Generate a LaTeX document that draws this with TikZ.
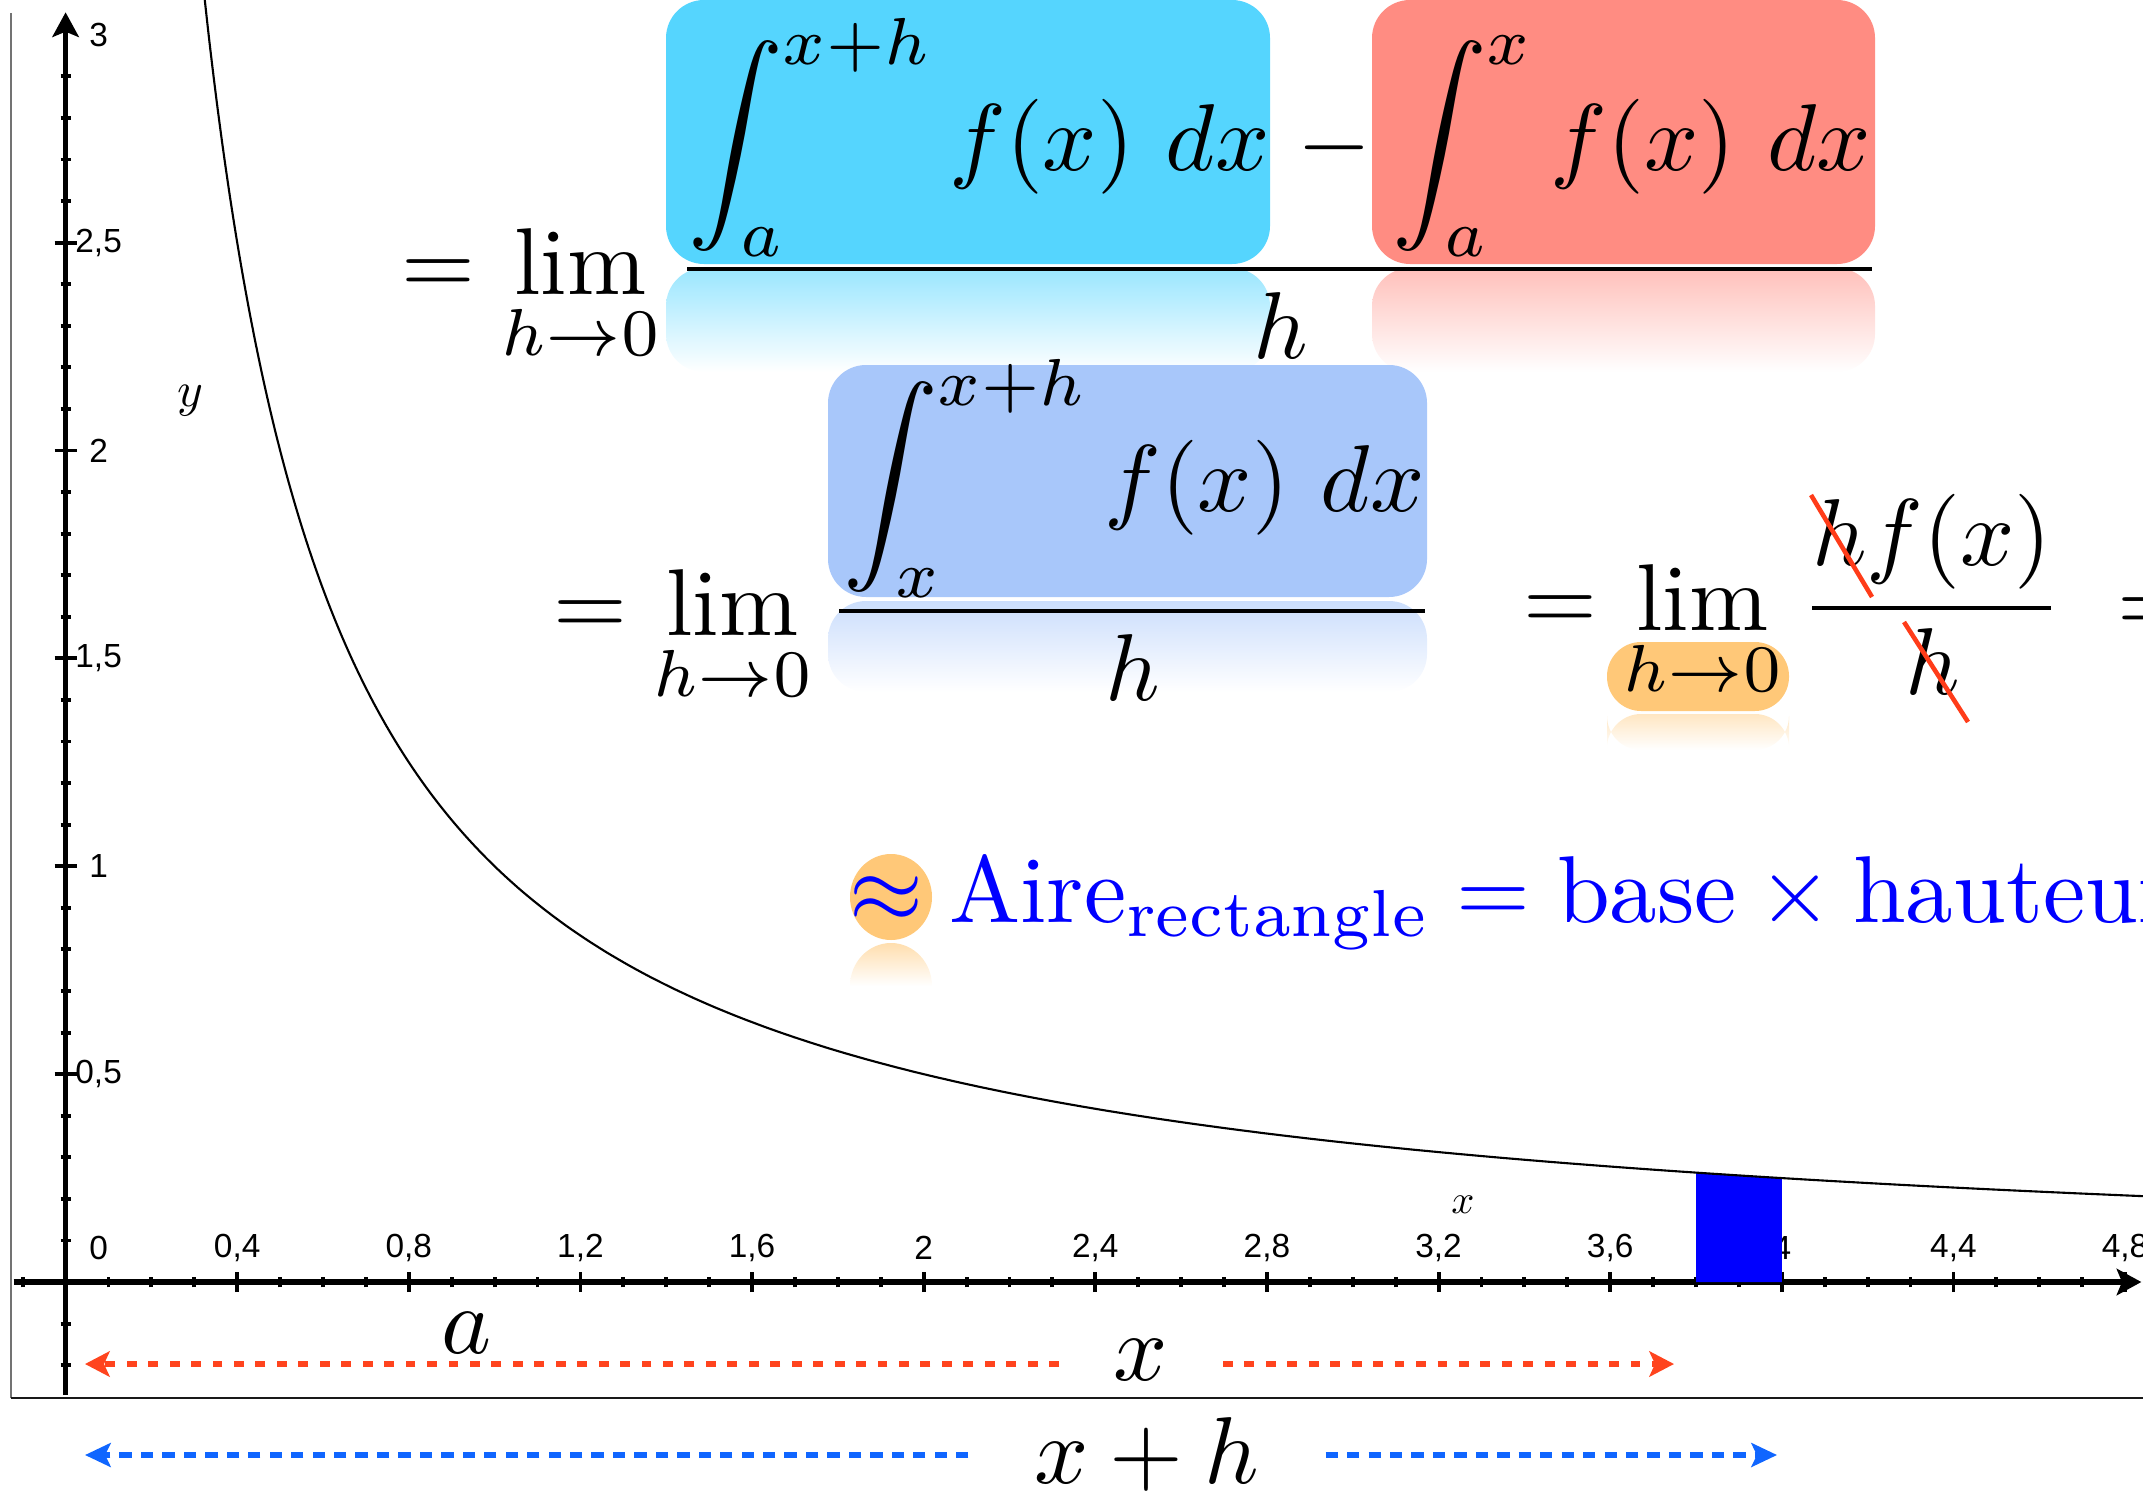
\documentclass[tikz,border=0pt]{standalone}
\usepackage{fontspec}
\newfontfamily\axfont{Liberation Sans}
\usetikzlibrary{arrows.meta}
\definecolor{cyanb}{RGB}{85,213,254}
\definecolor{salm}{RGB}{255,140,130}
\definecolor{lavb}{RGB}{168,199,250}
\definecolor{orb}{RGB}{255,200,120}
\definecolor{strk}{RGB}{255,60,25}
\definecolor{redar}{RGB}{255,68,30}
\definecolor{bluar}{RGB}{16,102,255}
\newcommand{\mbg}[1]{\scalebox{2.7}{$\displaystyle #1$}}
\begin{document}
\begin{tikzpicture}[x=0.01cm,y=-0.01cm,
  mt/.style={inner sep=0pt, outer sep=0pt},
  axline/.style={line width=1.6pt, black},
  tickline/.style={line width=1.1pt, black},
  curveline/.style={line width=0.6pt, black},
  axlbl/.style={inner sep=0pt, font=\axfont\fontsize{9.5}{11}\selectfont},
  varlbl/.style={inner sep=0pt},
  fracbar/.style={line width=1.1pt, black},
  strike/.style={line width=1.3pt, strk},
  redarrow/.style={line width=1.7pt, redar, dash pattern=on 2.8pt off 3.3pt, -{Stealth[length=7pt,width=7.2pt,inset=1.6pt]}},
  bluearrow/.style={line width=1.7pt, bluar, dash pattern=on 3.5pt off 2.6pt, -{Stealth[length=7.3pt,width=6.8pt,inset=1.6pt]}},
  hlbox/.style={rounded corners=10.8pt},
  pillbox/.style={rounded corners=9.7pt}
]
\useasboundingbox (0,0) rectangle (2143,1494);

% ---------- highlight boxes and reflections ----------
\fill[cyanb, hlbox] (666,0) rectangle (1270,264);
\shade[hlbox, top color=cyanb!60!white, bottom color=white] (666,268) rectangle (1270,372);
\fill[salm, hlbox] (1372,0) rectangle (1875,264);
\shade[hlbox, top color=salm!55!white, bottom color=white] (1372,268) rectangle (1875,372);
\fill[lavb, hlbox] (828,365) rectangle (1427,597);
\shade[hlbox, top color=lavb!60!white, bottom color=white] (828,601) rectangle (1427,692);
\fill[orb, pillbox] (1607,642) rectangle (1789,711);
\shade[pillbox, top color=orb!45!white, bottom color=white] (1607,714) rectangle (1789,750);
\fill[orb] (891,897) ellipse [x radius=41, y radius=43];
\shade[top color=orb!60!white, bottom color=white] (850,986) arc[start angle=180, end angle=360, x radius=41, y radius=43] -- cycle;

% ---------- frame ----------
\draw[black!55, line width=0.45pt] (11,13) -- (11,1398);
\draw[black!90, line width=0.5pt] (11,1398) -- (2143,1398);

% ---------- graph ----------
\begin{scope}[shift={(65.6,1282)}, x=4.288cm, y=4.155cm]
  \foreach \i in {-1,1,2,...,48}{
    \pgfmathtruncatemacro{\ismaj}{mod(\i,4)==0 ? 1 : 0}
    \ifnum\ismaj=1
      \draw[tickline] (\i/10,0) ++(0,-2.9pt) -- ++(0,5.8pt);
    \else
      \draw[tickline] (\i/10,0) ++(0,-1.5pt) -- ++(0,3pt);
    \fi
  }
  \foreach \i in {-2,-1,1,2,...,29}{
    \pgfmathtruncatemacro{\ismaj}{mod(\i,5)==0 ? 1 : 0}
    \ifnum\ismaj=1
      \draw[tickline] (0,\i/10) ++(-3.1pt,0) -- ++(6.2pt,0);
    \else
      \draw[tickline] (0,\i/10) ++(-1.45pt,0) -- ++(2.9pt,0);
    \fi
  }
  \draw[axline, -{Stealth[length=7pt,width=7.5pt,inset=1.5pt]}] (-0.121,0) -- (4.838,0);
  \draw[axline, -{Stealth[length=7pt,width=7.5pt,inset=1.5pt]}] (0,-0.272) -- (0,3.054);
  \node[axlbl] (xt0) at (0.077,0.082) {0};
  \foreach \v/\l [count=\k] in {0.4/{0,4},0.8/{0,8},1.2/{1,2},1.6/{1,6},2/2,2.4/{2,4},2.8/{2,8},3.2/{3,2},3.6/{3,6},4/4,4.4/{4,4},4.8/{4,8}}
    \node[axlbl] (xt\k) at (\v,0.082) {\l};
  \foreach \v/\l [count=\k] in {0.5/{0,5},1/1,1.5/{1,5},2/2,2.5/{2,5},3/3}
    \node[axlbl] (yt\k) at (0.077,\v) {\l};
  \fill[blue] (3.8,0) -- plot[domain=3.8:4, samples=10] (\x,{1/\x}) -- (4,0) -- cycle;
  \draw[curveline] plot[domain=0.32:4.9, samples=300, smooth] (\x,{1/\x});
  \node[varlbl] (ylab) at (0.290,2.12) {\scalebox{1.4}{$y$}};
  \node[varlbl] (xlab) at (3.257,0.185) {\scalebox{1.15}{$x$}};
\end{scope}

% ---------- equation 1 ----------
\node[mt, anchor=base west] (eqA) at (401,294) {\mbg{=\lim_{h\to0}}};
\node[mt, anchor=base west] (intA) at (688,170) {\mbg{\int_a^{x+h} f(x)\mkern6mu dx}};
\node[mt, anchor=base] (minus) at (1334,172) {\mbg{-}};
\node[mt, anchor=base west] (intB) at (1392,170) {\mbg{\int_a^{x} f(x)\mkern6mu dx}};
\draw[fracbar] (687,269) -- (1872,269);
\node[mt, anchor=base] (denA) at (1281,358) {\mbg{h}};

% ---------- equation 2 ----------
\node[mt, anchor=base west] (eqB) at (553,635) {\mbg{=\lim_{h\to0}}};
\node[mt, anchor=base west] (intC) at (843,511) {\mbg{\int_x^{x+h} f(x)\mkern6mu dx}};
\draw[fracbar] (839,611) -- (1425,611);
\node[mt, anchor=base] (denB) at (1133,700) {\mbg{h}};

\node[mt, anchor=base west] (eqC) at (1523,630) {\mbg{=\lim_{h\to0}}};
\node[mt, anchor=base west] (numC) at (1812,565) {\mbg{hf(x)}};
\draw[fracbar] (1812,608) -- (2051,608);
\node[mt, anchor=base] (denC) at (1933,694) {\mbg{h}};
\draw[strike] (1811,495) -- (1872,597);
\draw[strike] (1904,622) -- (1968,722);
\node[mt, anchor=base west] (eqD) at (2117,632) {\mbg{=}};

% ---------- equation 3 ----------
\node[mt, anchor=base west, text=blue] (aire) at (849,922) {\mbg{\approx\mathrm{Aire}_{\mathrm{rectangle}}=\mathrm{base}\times\mathrm{hauteur}}};

% ---------- dimension arrows ----------
\node[mt, anchor=base] (alab) at (467,1353) {\mbg{a}};
\node[mt, anchor=base, inner xsep=15.6pt] (xl) at (1141,1380) {\mbg{x}};
\coordinate (xtipL) at (85,1364);
\coordinate (xtipR) at (1674,1364);
\draw[redarrow] (xl.west |- xtipL) -- (xtipL);
\draw[redarrow] (xl.east |- xtipR) -- (xtipR);
\node[mt, anchor=base, inner xsep=18.8pt] (xhl) at (1147,1483) {\mbg{x+h}};
\coordinate (btipL) at (85,1455);
\coordinate (btipR) at (1777,1455);
\draw[bluearrow] (xhl.west |- btipL) -- (btipL);
\draw[bluearrow] (xhl.east |- btipR) -- (btipR);
\end{tikzpicture}
\end{document}
